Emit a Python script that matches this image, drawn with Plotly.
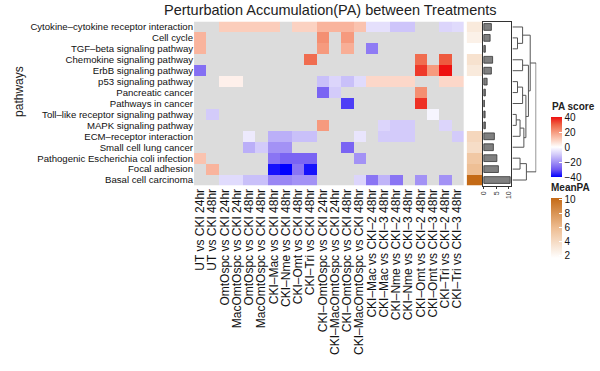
import plotly.graph_objects as go

N = None

pathways = [
    "Cytokine–cytokine receptor interaction",
    "Cell cycle",
    "TGF–beta signaling pathway",
    "Chemokine signaling pathway",
    "ErbB signaling pathway",
    "p53 signaling pathway",
    "Pancreatic cancer",
    "Pathways in cancer",
    "Toll–like receptor signaling pathway",
    "MAPK signaling pathway",
    "ECM–receptor interaction",
    "Small cell lung cancer",
    "Pathogenic Escherichia coli infection",
    "Focal adhesion",
    "Basal cell carcinoma",
]

comparisons = [
    "UT vs CKI 24hr",
    "UT vs CKI 48hr",
    "OmtOspc vs CKI 24hr",
    "MacOmtOspc vs CKI 24hr",
    "OmtOspc vs CKI 48hr",
    "MacOmtOspc vs CKI 48hr",
    "CKI–Mac vs CKI 48hr",
    "CKI–Nme vs CKI 48hr",
    "CKI–Omt vs CKI 48hr",
    "CKI–Tri vs CKI 48hr",
    "CKI–OmtOspc vs CKI 24hr",
    "CKI–MacOmtOspc vs CKI 24hr",
    "CKI–OmtOspc vs CKI 48hr",
    "CKI–MacOmtOspc vs CKI 48hr",
    "CKI–Mac vs CKI–2 48hr",
    "CKI–Mac vs CKI–3 48hr",
    "CKI–Nme vs CKI–2 48hr",
    "CKI–Nme vs CKI–3 48hr",
    "CKI–Omt vs CKI–2 48hr",
    "CKI–Omt vs CKI–3 48hr",
    "CKI–Tri vs CKI–2 48hr",
    "CKI–Tri vs CKI–3 48hr",
]

# PA scores (None = not significant, drawn grey)
pa_scores = [
    [N, N, 10, 10, 10, 10, 10, N, 9, 9, 15, 15, 15, 12, -6, -6, -11, -11, N, N, -8, -7],
    [15, N, N, N, N, N, N, N, N, N, 22, N, 20, N, N, N, N, N, N, N, N, N],
    [15, N, N, N, N, N, N, N, N, N, 20, N, 16, N, -24, N, N, N, N, N, N, N],
    [N, N, N, N, N, N, N, N, N, 28, N, N, N, N, N, N, N, N, 28, N, 31, N],
    [-26, N, N, N, N, N, N, N, N, N, N, N, N, N, N, N, N, N, 35, 20, 40, N],
    [N, N, 3, 3, N, N, N, N, N, N, -12, -8, -12, -7, 8, 8, 8, 8, N, N, 8, 8],
    [N, N, N, N, N, N, N, N, N, N, -28, -10, N, N, N, N, N, N, 22, N, N, N],
    [N, N, N, N, N, N, N, N, N, N, N, N, -33, N, N, N, N, N, 36, N, N, N],
    [N, -10, N, N, N, N, N, N, N, N, N, N, N, N, N, N, N, N, N, -2, N, N],
    [N, N, N, N, N, N, N, N, N, N, 20, N, N, N, N, -8, -10, -10, N, N, -8, N],
    [N, N, N, N, -4, N, -15, -15, -12, -12, N, N, N, -5, N, -10, -10, -10, N, N, N, -10],
    [N, N, N, N, -15, -10, -20, -20, N, N, N, N, -28, N, N, N, N, N, N, N, N, N],
    [12, N, N, N, N, N, -25, -28, -28, -28, N, N, N, -20, N, N, N, N, N, N, N, N],
    [N, 15, N, N, N, N, -38, -42, -25, -38, N, N, N, N, N, N, N, N, N, N, N, N],
    [N, N, -7, -7, -12, -12, -22, -22, -20, -20, N, N, N, -8, -25, -14, -25, N, -20, N, -20, N],
]

mean_pa = [3.0, 2.5, 0.6, 3.5, 3.0, 1.3, 0.6, 0.2, 0.5, 0.6, 4.2, 3.8, 5.2, 5.8, 10.5]

bar_ticks = [0, 5, 10]
pa_ticks = [-40, -20, 0, 20, 40]
meanpa_ticks = [2, 4, 6, 8, 10]

# dendrogram linkage: (left id, right id, height); leaves 0..14, merges numbered from 15
dendro_merges = [
    (1, 2, 20), (0, 15, 40), (3, 4, 40), (5, 6, 20), (18, 7, 40),
    (8, 9, 15), (20, 10, 30), (21, 11, 45), (19, 22, 53), (17, 23, 63),
    (16, 24, 70), (12, 13, 30), (26, 14, 55), (25, 27, 93),
]

W, H = 600, 371
FONT = "Liberation Sans, Arial, sans-serif"


def dx(a, b):
    return [a / W, b / W]


def dy(top, bottom):
    return [1 - bottom / H, 1 - top / H]


pa_colorscale = [
    [0.0, "#0000FF"], [0.125, "#7058F2"], [0.25, "#A392F5"], [0.375, "#D3CBFA"],
    [0.5, "#FFFFFF"], [0.625, "#FBCDBB"], [0.75, "#F69A7E"], [0.875, "#EE6244"],
    [1.0, "#EE1010"],
]
mean_colorscale = [[0.0, "#FFFFFF"], [0.5, "#EEBD92"], [1.0, "#C46A16"]]

rows = list(range(len(pathways)))
cols = list(range(len(comparisons)))

fig = go.Figure()

# grey background for non-significant cells
na_mask = [[1 if v is None else None for v in r] for r in pa_scores]
fig.add_trace(go.Heatmap(z=na_mask, x=cols, y=rows, colorscale=[[0, "#DCDCDC"], [1, "#DCDCDC"]],
                         showscale=False, hoverinfo="skip", xaxis="x", yaxis="y"))

fig.add_trace(go.Heatmap(
    z=pa_scores, x=cols, y=rows, zmin=-40, zmax=40, colorscale=pa_colorscale,
    xaxis="x", yaxis="y",
    colorbar=dict(x=552 / W, xanchor="left", y=1 - 147.5 / H, yanchor="middle",
                  lenmode="pixels", len=60, thickness=11, xpad=0, ypad=0,
                  outlinewidth=0, tickvals=pa_ticks, ticks="inside", ticklen=3,
                  tickcolor="white", tickfont=dict(size=10, color="#111", family=FONT)),
))

fig.add_trace(go.Heatmap(
    z=[[v] for v in mean_pa], x=[0], y=rows, zmin=1.6, zmax=10.2, colorscale=mean_colorscale,
    xaxis="x2", yaxis="y2",
    colorbar=dict(x=552 / W, xanchor="left", y=1 - 228 / H, yanchor="middle",
                  lenmode="pixels", len=60, thickness=11, xpad=0, ypad=0,
                  outlinewidth=0, tickvals=meanpa_ticks, ticks="inside", ticklen=3,
                  tickcolor="white", tickfont=dict(size=10, color="#111", family=FONT)),
))

fig.add_trace(go.Bar(
    x=mean_pa, y=rows, orientation="h", width=0.62,
    marker=dict(color="#808080", line=dict(color="#333333", width=0.8)),
    xaxis="x3", yaxis="y3", showlegend=False,
))

# dendrogram from linkage
pos = {i: float(i) for i in rows}
hgt = {i: 0.0 for i in rows}
dxs, dys = [], []
nid = len(rows)
for a, b, h in dendro_merges:
    dxs += [hgt[a], h, h, hgt[b], None]
    dys += [pos[a], pos[a], pos[b], pos[b], None]
    pos[nid] = (pos[a] + pos[b]) / 2
    hgt[nid] = h
    nid += 1
fig.add_trace(go.Scatter(x=dxs, y=dys, mode="lines", line=dict(color="#555555", width=1),
                         xaxis="x4", yaxis="y4", showlegend=False, hoverinfo="skip"))

yr = [len(rows) - 0.5, -0.5]
hidden = dict(showgrid=False, zeroline=False, showticklabels=False, ticks="")

fig.update_layout(
    width=W, height=H, autosize=False,
    margin=dict(l=0, r=0, t=0, b=0),
    paper_bgcolor="white", plot_bgcolor="white",
    font=dict(family=FONT, color="#111"),
    showlegend=False,
    xaxis=dict(domain=dx(193, 464), range=[-0.5, len(cols) - 0.5], tickmode="array",
               tickvals=cols, ticktext=comparisons, tickangle=-90, ticks="",
               tickfont=dict(size=12, color="#111"), showgrid=False, zeroline=False,
               anchor="y"),
    yaxis=dict(domain=dy(21.5, 185.5), range=yr, tickmode="array", tickvals=rows,
               ticktext=pathways, ticks="", tickfont=dict(size=9.6, color="#111"),
               showgrid=False, zeroline=False, anchor="x"),
    xaxis2=dict(domain=dx(467, 483), range=[-0.5, 0.5], anchor="y2", **hidden),
    yaxis2=dict(domain=dy(21.5, 185.5), range=yr, anchor="x2", **hidden),
    xaxis3=dict(domain=dx(483, 512), range=[-0.5, 11], anchor="y3", tickmode="array",
                tickvals=bar_ticks, tickangle=-90, ticks="outside", ticklen=2,
                tickcolor="#333", tickfont=dict(size=7, color="#333"), showgrid=False,
                zeroline=False, showline=True, mirror=True, linecolor="#333", linewidth=1),
    yaxis3=dict(domain=dy(21.5, 185.5), range=yr, anchor="x3", showgrid=False, zeroline=False,
                showticklabels=False, ticks="", showline=True, mirror=True,
                linecolor="#333", linewidth=1),
    xaxis4=dict(domain=dx(513, 537), range=[0, 94], anchor="y4", **hidden),
    yaxis4=dict(domain=dy(21.5, 185.5), range=yr, anchor="x4", **hidden),
    annotations=[
        dict(text="Perturbation Accumulation(PA) between Treatments", x=330 / W, y=1 - 10 / H,
             xref="paper", yref="paper", xanchor="center", yanchor="middle", showarrow=False,
             font=dict(size=14.5, color="#222")),
        dict(text="pathways", x=17 / W, y=1 - 91 / H, xref="paper", yref="paper",
             xanchor="center", yanchor="middle", textangle=-90, showarrow=False,
             font=dict(size=12, color="#222")),
        dict(text="<b>PA score</b>", x=551 / W, y=1 - 106 / H, xref="paper", yref="paper",
             xanchor="left", yanchor="middle", showarrow=False, font=dict(size=10, color="#222")),
        dict(text="<b>MeanPA</b>", x=550 / W, y=1 - 188 / H, xref="paper", yref="paper",
             xanchor="left", yanchor="middle", showarrow=False, font=dict(size=10, color="#222")),
    ],
)

fig.write_html("out.html", config={"displayModeBar": False},
               post_script="document.body.style.margin='0';document.body.style.overflow='hidden';")
